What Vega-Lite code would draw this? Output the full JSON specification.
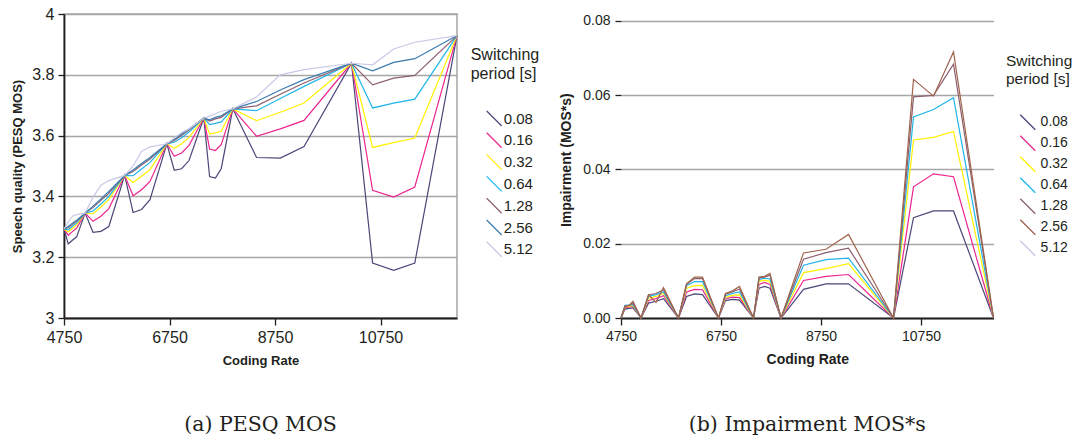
{
"$schema":"https://vega.github.io/schema/vega-lite/v6.json",
"padding":{"left":11,"top":5,"right":0,"bottom":0},
"background":"white",
"spacing":18,
"config":{
 "font":"Liberation Sans",
 "view":{"stroke":"#a6a6a6","strokeWidth":1.5},
 "axis":{"labelColor":"#231f20","titleColor":"#231f20","domainColor":"#231f20","domainWidth":1.8,"tickColor":"#231f20","tickWidth":1.3,"gridColor":"#a6a6a6","gridWidth":1.5,"titleFontWeight":"bold","labelFont":"Liberation Sans","titleFont":"Liberation Sans","labelFlush":false},
 "legend":{"labelColor":"#231f20","titleColor":"#231f20","titleFontWeight":"normal","labelFont":"Liberation Sans","titleFont":"Liberation Sans","symbolStrokeWidth":1.3,"symbolSize":225},
 "title":{"font":"DejaVu Serif","fontWeight":"normal","color":"#231f20"}
},
"datasets":{
"pesq":[
{"r":4750,"p":"0.08","v":3.293},{"r":4830,"p":"0.08","v":3.244},{"r":4910,"p":"0.08","v":3.256},{"r":4990,"p":"0.08","v":3.267},{"r":5150,"p":"0.08","v":3.345},{"r":5300,"p":"0.08","v":3.282},{"r":5450,"p":"0.08","v":3.285},{"r":5600,"p":"0.08","v":3.301},{"r":5900,"p":"0.08","v":3.469},{"r":6060,"p":"0.08","v":3.347},{"r":6220,"p":"0.08","v":3.357},{"r":6380,"p":"0.08","v":3.389},{"r":6700,"p":"0.08","v":3.573},{"r":6840,"p":"0.08","v":3.486},{"r":6980,"p":"0.08","v":3.491},{"r":7120,"p":"0.08","v":3.518},{"r":7400,"p":"0.08","v":3.658},{"r":7510,"p":"0.08","v":3.465},{"r":7620,"p":"0.08","v":3.46},{"r":7730,"p":"0.08","v":3.491},{"r":7950,"p":"0.08","v":3.688},{"r":8400,"p":"0.08","v":3.528},{"r":8850,"p":"0.08","v":3.526},{"r":9300,"p":"0.08","v":3.564},{"r":10200,"p":"0.08","v":3.838},{"r":10600,"p":"0.08","v":3.181},{"r":11000,"p":"0.08","v":3.157},{"r":11400,"p":"0.08","v":3.181},{"r":12200,"p":"0.08","v":3.929},
{"r":4750,"p":"0.16","v":3.293},{"r":4830,"p":"0.16","v":3.272},{"r":4910,"p":"0.16","v":3.284},{"r":4990,"p":"0.16","v":3.296},{"r":5150,"p":"0.16","v":3.345},{"r":5300,"p":"0.16","v":3.318},{"r":5450,"p":"0.16","v":3.335},{"r":5600,"p":"0.16","v":3.36},{"r":5900,"p":"0.16","v":3.469},{"r":6060,"p":"0.16","v":3.402},{"r":6220,"p":"0.16","v":3.422},{"r":6380,"p":"0.16","v":3.449},{"r":6700,"p":"0.16","v":3.573},{"r":6840,"p":"0.16","v":3.532},{"r":6980,"p":"0.16","v":3.543},{"r":7120,"p":"0.16","v":3.568},{"r":7400,"p":"0.16","v":3.658},{"r":7510,"p":"0.16","v":3.556},{"r":7620,"p":"0.16","v":3.551},{"r":7730,"p":"0.16","v":3.57},{"r":7950,"p":"0.16","v":3.688},{"r":8400,"p":"0.16","v":3.598},{"r":8850,"p":"0.16","v":3.622},{"r":9300,"p":"0.16","v":3.65},{"r":10200,"p":"0.16","v":3.838},{"r":10600,"p":"0.16","v":3.42},{"r":11000,"p":"0.16","v":3.398},{"r":11400,"p":"0.16","v":3.431},{"r":12200,"p":"0.16","v":3.929},
{"r":4750,"p":"0.32","v":3.293},{"r":4830,"p":"0.32","v":3.283},{"r":4910,"p":"0.32","v":3.295},{"r":4990,"p":"0.32","v":3.307},{"r":5150,"p":"0.32","v":3.345},{"r":5300,"p":"0.32","v":3.343},{"r":5450,"p":"0.32","v":3.365},{"r":5600,"p":"0.32","v":3.39},{"r":5900,"p":"0.32","v":3.469},{"r":6060,"p":"0.32","v":3.446},{"r":6220,"p":"0.32","v":3.466},{"r":6380,"p":"0.32","v":3.488},{"r":6700,"p":"0.32","v":3.573},{"r":6840,"p":"0.32","v":3.558},{"r":6980,"p":"0.32","v":3.573},{"r":7120,"p":"0.32","v":3.594},{"r":7400,"p":"0.32","v":3.658},{"r":7510,"p":"0.32","v":3.605},{"r":7620,"p":"0.32","v":3.609},{"r":7730,"p":"0.32","v":3.614},{"r":7950,"p":"0.32","v":3.688},{"r":8400,"p":"0.32","v":3.649},{"r":8850,"p":"0.32","v":3.677},{"r":9300,"p":"0.32","v":3.707},{"r":10200,"p":"0.32","v":3.838},{"r":10600,"p":"0.32","v":3.561},{"r":11000,"p":"0.32","v":3.577},{"r":11400,"p":"0.32","v":3.592},{"r":12200,"p":"0.32","v":3.929},
{"r":4750,"p":"0.64","v":3.293},{"r":4830,"p":"0.64","v":3.29},{"r":4910,"p":"0.64","v":3.302},{"r":4990,"p":"0.64","v":3.313},{"r":5150,"p":"0.64","v":3.345},{"r":5300,"p":"0.64","v":3.352},{"r":5450,"p":"0.64","v":3.375},{"r":5600,"p":"0.64","v":3.4},{"r":5900,"p":"0.64","v":3.469},{"r":6060,"p":"0.64","v":3.468},{"r":6220,"p":"0.64","v":3.49},{"r":6380,"p":"0.64","v":3.512},{"r":6700,"p":"0.64","v":3.573},{"r":6840,"p":"0.64","v":3.578},{"r":6980,"p":"0.64","v":3.593},{"r":7120,"p":"0.64","v":3.612},{"r":7400,"p":"0.64","v":3.658},{"r":7510,"p":"0.64","v":3.636},{"r":7620,"p":"0.64","v":3.64},{"r":7730,"p":"0.64","v":3.645},{"r":7950,"p":"0.64","v":3.688},{"r":8400,"p":"0.64","v":3.682},{"r":8850,"p":"0.64","v":3.722},{"r":9300,"p":"0.64","v":3.762},{"r":10200,"p":"0.64","v":3.838},{"r":10600,"p":"0.64","v":3.691},{"r":11000,"p":"0.64","v":3.707},{"r":11400,"p":"0.64","v":3.72},{"r":12200,"p":"0.64","v":3.929},
{"r":4750,"p":"1.28","v":3.293},{"r":4830,"p":"1.28","v":3.297},{"r":4910,"p":"1.28","v":3.308},{"r":4990,"p":"1.28","v":3.318},{"r":5150,"p":"1.28","v":3.345},{"r":5300,"p":"1.28","v":3.363},{"r":5450,"p":"1.28","v":3.387},{"r":5600,"p":"1.28","v":3.41},{"r":5900,"p":"1.28","v":3.469},{"r":6060,"p":"1.28","v":3.482},{"r":6220,"p":"1.28","v":3.503},{"r":6380,"p":"1.28","v":3.523},{"r":6700,"p":"1.28","v":3.573},{"r":6840,"p":"1.28","v":3.584},{"r":6980,"p":"1.28","v":3.601},{"r":7120,"p":"1.28","v":3.618},{"r":7400,"p":"1.28","v":3.658},{"r":7510,"p":"1.28","v":3.648},{"r":7620,"p":"1.28","v":3.655},{"r":7730,"p":"1.28","v":3.66},{"r":7950,"p":"1.28","v":3.688},{"r":8400,"p":"1.28","v":3.698},{"r":8850,"p":"1.28","v":3.736},{"r":9300,"p":"1.28","v":3.773},{"r":10200,"p":"1.28","v":3.838},{"r":10600,"p":"1.28","v":3.767},{"r":11000,"p":"1.28","v":3.789},{"r":11400,"p":"1.28","v":3.798},{"r":12200,"p":"1.28","v":3.929},
{"r":4750,"p":"2.56","v":3.293},{"r":4830,"p":"2.56","v":3.301},{"r":4910,"p":"2.56","v":3.312},{"r":4990,"p":"2.56","v":3.322},{"r":5150,"p":"2.56","v":3.345},{"r":5300,"p":"2.56","v":3.368},{"r":5450,"p":"2.56","v":3.392},{"r":5600,"p":"2.56","v":3.416},{"r":5900,"p":"2.56","v":3.469},{"r":6060,"p":"2.56","v":3.487},{"r":6220,"p":"2.56","v":3.508},{"r":6380,"p":"2.56","v":3.528},{"r":6700,"p":"2.56","v":3.573},{"r":6840,"p":"2.56","v":3.588},{"r":6980,"p":"2.56","v":3.605},{"r":7120,"p":"2.56","v":3.622},{"r":7400,"p":"2.56","v":3.658},{"r":7510,"p":"2.56","v":3.652},{"r":7620,"p":"2.56","v":3.66},{"r":7730,"p":"2.56","v":3.665},{"r":7950,"p":"2.56","v":3.688},{"r":8400,"p":"2.56","v":3.712},{"r":8850,"p":"2.56","v":3.75},{"r":9300,"p":"2.56","v":3.784},{"r":10200,"p":"2.56","v":3.838},{"r":10600,"p":"2.56","v":3.813},{"r":11000,"p":"2.56","v":3.841},{"r":11400,"p":"2.56","v":3.853},{"r":12200,"p":"2.56","v":3.929},
{"r":4750,"p":"5.12","v":3.293},{"r":4830,"p":"5.12","v":3.315},{"r":4910,"p":"5.12","v":3.335},{"r":4990,"p":"5.12","v":3.34},{"r":5150,"p":"5.12","v":3.345},{"r":5300,"p":"5.12","v":3.397},{"r":5450,"p":"5.12","v":3.437},{"r":5600,"p":"5.12","v":3.452},{"r":5900,"p":"5.12","v":3.469},{"r":6060,"p":"5.12","v":3.5},{"r":6220,"p":"5.12","v":3.548},{"r":6380,"p":"5.12","v":3.563},{"r":6700,"p":"5.12","v":3.573},{"r":6840,"p":"5.12","v":3.592},{"r":6980,"p":"5.12","v":3.61},{"r":7120,"p":"5.12","v":3.622},{"r":7400,"p":"5.12","v":3.658},{"r":7510,"p":"5.12","v":3.664},{"r":7620,"p":"5.12","v":3.672},{"r":7730,"p":"5.12","v":3.68},{"r":7950,"p":"5.12","v":3.688},{"r":8400,"p":"5.12","v":3.727},{"r":8850,"p":"5.12","v":3.8},{"r":9300,"p":"5.12","v":3.817},{"r":10200,"p":"5.12","v":3.838},{"r":10600,"p":"5.12","v":3.833},{"r":11000,"p":"5.12","v":3.885},{"r":11400,"p":"5.12","v":3.907},{"r":12200,"p":"5.12","v":3.929}
],
"imp":[
{"r":4750,"p":"0.08","v":0},{"r":4830,"p":"0.08","v":0.0024},{"r":4910,"p":"0.08","v":0.0026},{"r":4990,"p":"0.08","v":0.0027},{"r":5150,"p":"0.08","v":0},{"r":5300,"p":"0.08","v":0.004},{"r":5450,"p":"0.08","v":0.0045},{"r":5600,"p":"0.08","v":0.0052},{"r":5900,"p":"0.08","v":0},{"r":6060,"p":"0.08","v":0.0058},{"r":6220,"p":"0.08","v":0.0065},{"r":6380,"p":"0.08","v":0.0063},{"r":6700,"p":"0.08","v":0},{"r":6840,"p":"0.08","v":0.0047},{"r":6980,"p":"0.08","v":0.005},{"r":7120,"p":"0.08","v":0.0048},{"r":7400,"p":"0.08","v":0},{"r":7510,"p":"0.08","v":0.008},{"r":7620,"p":"0.08","v":0.0085},{"r":7730,"p":"0.08","v":0.008},{"r":7950,"p":"0.08","v":0},{"r":8400,"p":"0.08","v":0.0077},{"r":8850,"p":"0.08","v":0.0092},{"r":9300,"p":"0.08","v":0.0092},{"r":10200,"p":"0.08","v":0},{"r":10600,"p":"0.08","v":0.027},{"r":11000,"p":"0.08","v":0.0288},{"r":11400,"p":"0.08","v":0.0288},{"r":12200,"p":"0.08","v":0},
{"r":4750,"p":"0.16","v":0},{"r":4830,"p":"0.16","v":0.0028},{"r":4910,"p":"0.16","v":0.003},{"r":4990,"p":"0.16","v":0.0031},{"r":5150,"p":"0.16","v":0},{"r":5300,"p":"0.16","v":0.0047},{"r":5450,"p":"0.16","v":0.0052},{"r":5600,"p":"0.16","v":0.006},{"r":5900,"p":"0.16","v":0},{"r":6060,"p":"0.16","v":0.007},{"r":6220,"p":"0.16","v":0.0077},{"r":6380,"p":"0.16","v":0.0076},{"r":6700,"p":"0.16","v":0},{"r":6840,"p":"0.16","v":0.0052},{"r":6980,"p":"0.16","v":0.0056},{"r":7120,"p":"0.16","v":0.0055},{"r":7400,"p":"0.16","v":0},{"r":7510,"p":"0.16","v":0.009},{"r":7620,"p":"0.16","v":0.0096},{"r":7730,"p":"0.16","v":0.009},{"r":7950,"p":"0.16","v":0},{"r":8400,"p":"0.16","v":0.0101},{"r":8850,"p":"0.16","v":0.0112},{"r":9300,"p":"0.16","v":0.0117},{"r":10200,"p":"0.16","v":0},{"r":10600,"p":"0.16","v":0.0353},{"r":11000,"p":"0.16","v":0.0388},{"r":11400,"p":"0.16","v":0.038},{"r":12200,"p":"0.16","v":0},
{"r":4750,"p":"0.32","v":0},{"r":4830,"p":"0.32","v":0.003},{"r":4910,"p":"0.32","v":0.0032},{"r":4990,"p":"0.32","v":0.0033},{"r":5150,"p":"0.32","v":0},{"r":5300,"p":"0.32","v":0.0053},{"r":5450,"p":"0.32","v":0.0058},{"r":5600,"p":"0.32","v":0.0066},{"r":5900,"p":"0.32","v":0},{"r":6060,"p":"0.32","v":0.008},{"r":6220,"p":"0.32","v":0.0087},{"r":6380,"p":"0.32","v":0.0088},{"r":6700,"p":"0.32","v":0},{"r":6840,"p":"0.32","v":0.0056},{"r":6980,"p":"0.32","v":0.0061},{"r":7120,"p":"0.32","v":0.0062},{"r":7400,"p":"0.32","v":0},{"r":7510,"p":"0.32","v":0.0098},{"r":7620,"p":"0.32","v":0.0102},{"r":7730,"p":"0.32","v":0.0098},{"r":7950,"p":"0.32","v":0},{"r":8400,"p":"0.32","v":0.0122},{"r":8850,"p":"0.32","v":0.0133},{"r":9300,"p":"0.32","v":0.0146},{"r":10200,"p":"0.32","v":0},{"r":10600,"p":"0.32","v":0.0479},{"r":11000,"p":"0.32","v":0.0486},{"r":11400,"p":"0.32","v":0.0502},{"r":12200,"p":"0.32","v":0},
{"r":4750,"p":"0.64","v":0},{"r":4830,"p":"0.64","v":0.0034},{"r":4910,"p":"0.64","v":0.0035},{"r":4990,"p":"0.64","v":0.0036},{"r":5150,"p":"0.64","v":0},{"r":5300,"p":"0.64","v":0.0058},{"r":5450,"p":"0.64","v":0.0063},{"r":5600,"p":"0.64","v":0.007},{"r":5900,"p":"0.64","v":0},{"r":6060,"p":"0.64","v":0.0087},{"r":6220,"p":"0.64","v":0.0098},{"r":6380,"p":"0.64","v":0.0098},{"r":6700,"p":"0.64","v":0},{"r":6840,"p":"0.64","v":0.006},{"r":6980,"p":"0.64","v":0.0066},{"r":7120,"p":"0.64","v":0.007},{"r":7400,"p":"0.64","v":0},{"r":7510,"p":"0.64","v":0.0104},{"r":7620,"p":"0.64","v":0.0107},{"r":7730,"p":"0.64","v":0.0105},{"r":7950,"p":"0.64","v":0},{"r":8400,"p":"0.64","v":0.0142},{"r":8850,"p":"0.64","v":0.0157},{"r":9300,"p":"0.64","v":0.0161},{"r":10200,"p":"0.64","v":0},{"r":10600,"p":"0.64","v":0.0541},{"r":11000,"p":"0.64","v":0.0561},{"r":11400,"p":"0.64","v":0.0593},{"r":12200,"p":"0.64","v":0},
{"r":4750,"p":"1.28","v":0},{"r":4830,"p":"1.28","v":0.0032},{"r":4910,"p":"1.28","v":0.0034},{"r":4990,"p":"1.28","v":0.004},{"r":5150,"p":"1.28","v":0},{"r":5300,"p":"1.28","v":0.0062},{"r":5450,"p":"1.28","v":0.0066},{"r":5600,"p":"1.28","v":0.0076},{"r":5900,"p":"1.28","v":0},{"r":6060,"p":"1.28","v":0.009},{"r":6220,"p":"1.28","v":0.0106},{"r":6380,"p":"1.28","v":0.0106},{"r":6700,"p":"1.28","v":0},{"r":6840,"p":"1.28","v":0.0064},{"r":6980,"p":"1.28","v":0.007},{"r":7120,"p":"1.28","v":0.0078},{"r":7400,"p":"1.28","v":0},{"r":7510,"p":"1.28","v":0.0108},{"r":7620,"p":"1.28","v":0.011},{"r":7730,"p":"1.28","v":0.0115},{"r":7950,"p":"1.28","v":0},{"r":8400,"p":"1.28","v":0.0158},{"r":8850,"p":"1.28","v":0.0176},{"r":9300,"p":"1.28","v":0.0188},{"r":10200,"p":"1.28","v":0},{"r":10600,"p":"1.28","v":0.0595},{"r":11000,"p":"1.28","v":0.0599},{"r":11400,"p":"1.28","v":0.0683},{"r":12200,"p":"1.28","v":0},
{"r":4750,"p":"2.56","v":0},{"r":4830,"p":"2.56","v":0.0031},{"r":4910,"p":"2.56","v":0.0034},{"r":4990,"p":"2.56","v":0.0045},{"r":5150,"p":"2.56","v":0},{"r":5300,"p":"2.56","v":0.0063},{"r":5450,"p":"2.56","v":0.0042},{"r":5600,"p":"2.56","v":0.0082},{"r":5900,"p":"2.56","v":0},{"r":6060,"p":"2.56","v":0.0092},{"r":6220,"p":"2.56","v":0.011},{"r":6380,"p":"2.56","v":0.011},{"r":6700,"p":"2.56","v":0},{"r":6840,"p":"2.56","v":0.0066},{"r":6980,"p":"2.56","v":0.0073},{"r":7120,"p":"2.56","v":0.0085},{"r":7400,"p":"2.56","v":0},{"r":7510,"p":"2.56","v":0.011},{"r":7620,"p":"2.56","v":0.0112},{"r":7730,"p":"2.56","v":0.012},{"r":7950,"p":"2.56","v":0},{"r":8400,"p":"2.56","v":0.0175},{"r":8850,"p":"2.56","v":0.0185},{"r":9300,"p":"2.56","v":0.0225},{"r":10200,"p":"2.56","v":0},{"r":10600,"p":"2.56","v":0.0642},{"r":11000,"p":"2.56","v":0.0597},{"r":11400,"p":"2.56","v":0.0716},{"r":12200,"p":"2.56","v":0}
]
},
"resolve":{"scale":{"color":"independent"},"legend":{"color":"independent"}},
"hconcat":[
{
 "width":393,"height":304,
 "title":{"text":"(a) PESQ MOS","orient":"bottom","anchor":"middle","frame":"group","fontSize":20.5,"offset":48},
 "data":{"name":"pesq"},
 "mark":{"type":"line","strokeWidth":1.2},
 "encoding":{
  "x":{"field":"r","type":"quantitative","scale":{"domain":[4750,12200],"nice":false,"zero":false},
       "axis":{"values":[4750,6750,8750,10750],"format":"d","title":"Coding Rate","grid":false,"labelFontSize":16,"titleFontSize":13,"tickSize":7,"labelPadding":4,"titlePadding":9}},
  "y":{"field":"v","type":"quantitative","scale":{"domain":[3,4],"nice":false,"zero":false},
       "axis":{"values":[3,3.2,3.4,3.6,3.8,4],"format":"~g","title":"Speech quality (PESQ MOS)","labelFontSize":16,"titleFontSize":13,"tickSize":6,"labelPadding":4,"titlePadding":7}},
  "color":{"field":"p","type":"nominal",
       "scale":{"domain":["0.08","0.16","0.32","0.64","1.28","2.56","5.12"],"range":["#4a4878","#ec268f","#fff000","#20b5ea","#8c5f6f","#3a7bb0","#c9c8e6"]},
       "legend":{"title":["Switching","period [s]"],"orient":"none","legendX":406.7,"legendY":33,"titleFontSize":16,"titleLineHeight":19,"titlePadding":28,"labelFontSize":15,"symbolType":"M1,-1L3,1","symbolSize":225,"labelOffset":16,"rowPadding":0.8}}
 }
},
{
 "width":372.5,"height":304,
 "view":{"stroke":null},
 "title":{"text":"(b) Impairment MOS*s","orient":"bottom","anchor":"middle","frame":"group","fontSize":20.5,"offset":49},
 "layer":[
  {
   "data":{"name":"imp"},
   "mark":{"type":"line","strokeWidth":1.2},
   "encoding":{
    "x":{"field":"r","type":"quantitative","scale":{"domain":[4750,12200],"nice":false,"zero":false},
         "axis":{"values":[4750,6750,8750,10750],"format":"d","title":"Coding Rate","grid":false,"labelFontSize":14,"titleFontSize":14,"tickSize":7,"labelPadding":4,"titlePadding":9}},
    "y":{"field":"v","type":"quantitative","scale":{"domain":[0,0.0818],"nice":false,"zero":false},
         "axis":{"values":[0,0.02,0.04,0.06,0.08],"format":".2f","title":"Impairment (MOS*s)","domain":false,"labelFontSize":14,"titleFontSize":14,"tickSize":6,"labelPadding":5,"titlePadding":9,"titleY":145.7}},
    "color":{"field":"p","type":"nominal",
         "scale":{"domain":["0.08","0.16","0.32","0.64","1.28","2.56","5.12"],"range":["#4a4878","#ec268f","#fff000","#20b5ea","#8c5f6f","#a0644c","#c9c8e6"]},
         "legend":{"title":["Switching","period [s]"],"orient":"none","legendX":385,"legendY":40,"titleFontSize":15.5,"titleLineHeight":18.3,"titlePadding":26,"labelFontSize":14,"symbolType":"M0.77,-1L2.77,1","symbolSize":225,"labelOffset":17.6,"rowPadding":0}}
   }
  },
  {
   "mark":{"type":"rule","color":"#231f20","strokeWidth":1.8},
   "encoding":{"x":{"datum":4750},"y":{"datum":0},"y2":{"datum":0.08}}
  },
  {
   "mark":{"type":"rule","color":"#a6a6a6","strokeWidth":1.5},
   "encoding":{"x":{"datum":12200},"y":{"datum":0},"y2":{"datum":0.08}}
  }
 ]
}
]
}
